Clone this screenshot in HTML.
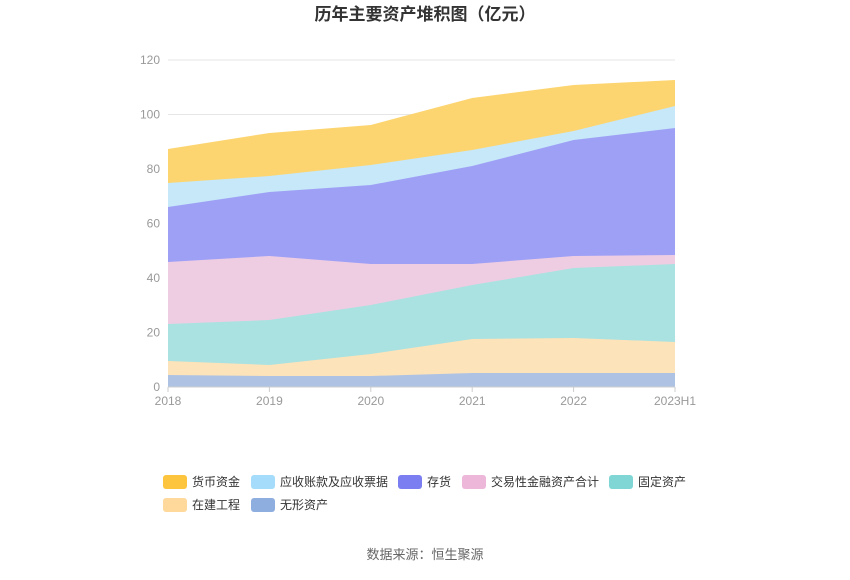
<!DOCTYPE html>
<html><head><meta charset="utf-8"><style>
body{margin:0;background:#fff;width:850px;height:575px;overflow:hidden;font-family:"Liberation Sans","Noto Sans CJK SC",sans-serif;}
</style></head><body>
<svg width="850" height="575" xmlns="http://www.w3.org/2000/svg" font-family="Liberation Sans, Noto Sans CJK SC, sans-serif">
<text x="425" y="20" text-anchor="middle" font-size="17" font-weight="bold" fill="#333">历年主要资产堆积图（亿元）</text>
<g stroke="#e6e6e6" stroke-width="1">
<line x1="168" y1="60" x2="675" y2="60"/><line x1="168" y1="114.5" x2="675" y2="114.5"/><line x1="168" y1="169" x2="675" y2="169"/><line x1="168" y1="223.5" x2="675" y2="223.5"/><line x1="168" y1="278" x2="675" y2="278"/><line x1="168" y1="332.5" x2="675" y2="332.5"/>
</g>
<g font-size="12" fill="#999" text-anchor="end">
<text x="160" y="64">120</text><text x="160" y="118.5">100</text><text x="160" y="173">80</text><text x="160" y="227.5">60</text><text x="160" y="282">40</text><text x="160" y="336.5">20</text><text x="160" y="391">0</text>
</g>
<!-- areas, drawn top layer first -->
<polygon fill="#fdd570" points="168,149 269.4,133 370.8,125 472.2,98 573.6,85 675,80 675,387 168,387"/>
<polygon fill="#c6e8f8" points="168,183 269.4,176 370.8,165 472.2,150 573.6,131 675,106 675,387 168,387"/>
<polygon fill="#9ea0f6" points="168,207 269.4,192 370.8,185 472.2,166 573.6,140 675,128 675,387 168,387"/>
<polygon fill="#eecde3" points="168,262 269.4,256 370.8,264 472.2,264 573.6,256 675,255 675,387 168,387"/>
<polygon fill="#aae2e1" points="168,324 269.4,320 370.8,305 472.2,285 573.6,268 675,264 675,387 168,387"/>
<polygon fill="#fde3b9" points="168,361 269.4,365 370.8,354 472.2,339 573.6,338 675,342 675,387 168,387"/>
<polygon fill="#aec3e4" points="168,375 269.4,376 370.8,376 472.2,373 573.6,373 675,373 675,387 168,387"/>
<line x1="168" y1="387" x2="675" y2="387" stroke="#ccc"/>
<g stroke="#ccc"><line x1="168" y1="387" x2="168" y2="392"/><line x1="269.4" y1="387" x2="269.4" y2="392"/><line x1="370.8" y1="387" x2="370.8" y2="392"/><line x1="472.2" y1="387" x2="472.2" y2="392"/><line x1="573.6" y1="387" x2="573.6" y2="392"/><line x1="675" y1="387" x2="675" y2="392"/></g>
<g font-size="12" fill="#999" text-anchor="middle">
<text x="168" y="405">2018</text><text x="269.4" y="405">2019</text><text x="370.8" y="405">2020</text><text x="472.2" y="405">2021</text><text x="573.6" y="405">2022</text><text x="675" y="405">2023H1</text>
</g>
<g font-size="12" fill="#333">
<rect x="163" y="475" width="24" height="14" rx="3" fill="#fdc53d"/><text x="192" y="486">货币资金</text>
<rect x="251" y="475" width="24" height="14" rx="3" fill="#a6dcfb"/><text x="280" y="486">应收账款及应收票据</text>
<rect x="398" y="475" width="24" height="14" rx="3" fill="#7b7ef0"/><text x="427" y="486">存货</text>
<rect x="462" y="475" width="24" height="14" rx="3" fill="#ecb7d9"/><text x="491" y="486">交易性金融资产合计</text>
<rect x="609" y="475" width="24" height="14" rx="3" fill="#7fd6d4"/><text x="638" y="486">固定资产</text>
<rect x="163" y="498" width="24" height="14" rx="3" fill="#ffd99b"/><text x="192" y="509">在建工程</text>
<rect x="251" y="498" width="24" height="14" rx="3" fill="#8faee0"/><text x="280" y="509">无形资产</text>
</g>
<text x="425" y="559" text-anchor="middle" font-size="13" fill="#666">数据来源：恒生聚源</text>
</svg>
</body></html>
